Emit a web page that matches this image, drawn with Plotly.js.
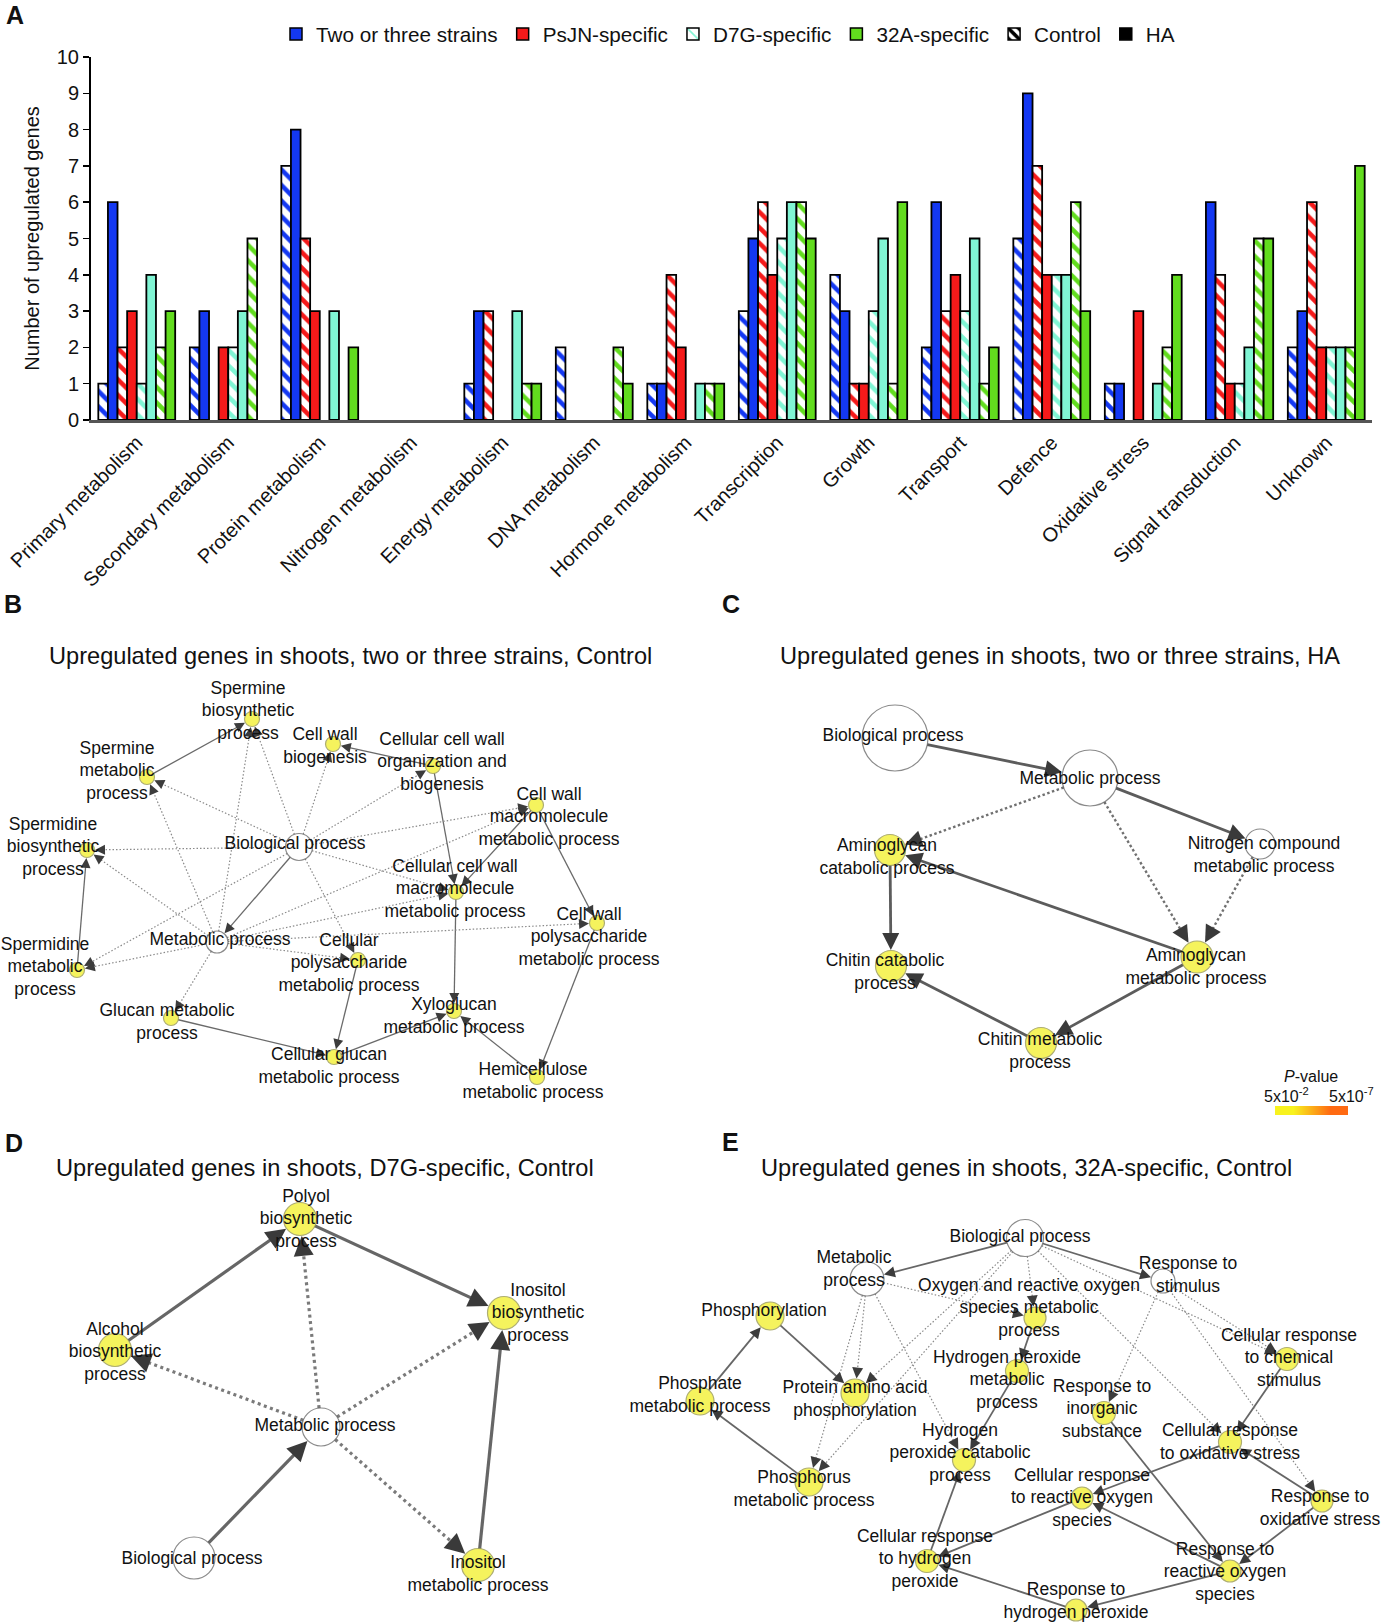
<!DOCTYPE html>
<html>
<head>
<meta charset="utf-8">
<script src="https://cdn.plot.ly/plotly-3.0.1.min.js"></script>
<style>html,body{margin:0;padding:0;background:#fff;}</style>
</head>
<body>
<div id="chart" style="width:1382px;height:1624px;"></div>
<script>
// ---------------- Panel A data ----------------
const categories = ['Primary metabolism','Secondary metabolism','Protein metabolism','Nitrogen metabolism',
  'Energy metabolism','DNA metabolism','Hormone metabolism','Transcription','Growth','Transport',
  'Defence','Oxidative stress','Signal transduction','Unknown'];
const twoThreeControl = [1,2,7,0,1,2,1,3,4,2,5,1,0,2];
const twoThreeHA      = [6,3,8,0,3,0,1,5,3,6,9,1,6,3];
const psjnControl     = [2,0,5,0,3,0,4,6,1,3,7,0,4,6];
const psjnHA          = [3,2,3,0,0,0,2,4,1,4,4,3,1,2];
const d7gControl      = [1,2,0,0,0,0,0,5,3,3,4,0,1,2];
const d7gHA           = [4,3,3,0,3,0,1,6,5,5,4,1,2,2];
const a32Control      = [2,5,0,0,1,2,1,6,1,1,6,2,5,2];
const a32HA           = [3,0,2,0,1,1,1,5,6,2,3,4,5,7];
const groupNames = ['Two or three strains','PsJN-specific','D7G-specific','32A-specific'];
const treatmentNames = ['Control','HA'];
const yTicks = [0,1,2,3,4,5,6,7,8,9,10];

// ---------------- Panel B network ----------------
const bLabels = ['Spermine<br>biosynthetic<br>process','Cell wall<br>biogenesis','Cellular cell wall<br>organization and<br>biogenesis',
  'Spermine<br>metabolic<br>process','Cell wall<br>macromolecule<br>metabolic process','Spermidine<br>biosynthetic<br>process',
  'Biological process','Cellular cell wall<br>macromolecule<br>metabolic process','Cell wall<br>polysaccharide<br>metabolic process',
  'Metabolic process','Cellular<br>polysaccharide<br>metabolic process','Spermidine<br>metabolic<br>process',
  'Glucan metabolic<br>process','Xyloglucan<br>metabolic process','Cellular glucan<br>metabolic process','Hemicellulose<br>metabolic process'];
const bSignificant = [1,1,1,1,1,1,0,1,1,0,1,1,1,1,1,1];
const bEdges = [[3,0,0],[2,1,0],[2,7,0],[4,7,0],[4,8,0],[7,13,0],[6,9,0],[11,5,0],[10,14,0],[12,14,0],[14,13,0],[15,13,0],[8,15,0],
  [6,3,1],[9,3,1],[6,0,1],[9,0,1],[6,1,1],[6,2,1],[6,4,1],[6,5,1],[6,7,1],[6,10,1],[9,4,1],[9,5,1],[9,11,1],[6,11,1],[9,7,1],[9,8,1],[9,10,1],[9,12,1]];
// layout of B (page pixels)
const bPos = [[252,719],[333,744],[433,766],[147,777],[536,805],[87,850],[299,847],[456,892],[597,923],[217,942],[358,960],[77,970],[171,1018],[454,1011],[334,1057],[537,1077]];
const bLabelPos = [[248,712],[325,747],[442,763],[117,772],[549,818],[53,848],[295,845],[455,890],[589,938],[220,941],[349,964],[45,968],[167,1023],[454,1017],[329,1067],[533,1082]];
const bSize = [15,15,15,15,15,15,27,15,15,22,15,15,15,15,15,15];

// ---------------- Panel C network ----------------
const cLabels = ['Biological process','Metabolic process','Nitrogen compound<br>metabolic process','Aminoglycan<br>catabolic process',
  'Chitin catabolic<br>process','Aminoglycan<br>metabolic process','Chitin metabolic<br>process'];
const cSignificant = [0,0,0,1,1,1,1];
const cEdges = [[0,1,0],[1,2,0],[1,3,1],[1,5,1],[2,5,1],[5,3,0],[3,4,0],[5,6,0],[6,4,0]];
const cPos = [[895,738],[1090,778],[1260,844],[890,850],[891,966],[1197,957],[1041,1043]];
const cLabelPos = [[893,737],[1090,780],[1264,856],[887,858],[885,973],[1196,968],[1040,1052]];
const cSize = [66,56,30,31,31,32,31];

// ---------------- Panel D network ----------------
const dLabels = ['Polyol<br>biosynthetic<br>process','Inositol<br>biosynthetic<br>process','Alcohol<br>biosynthetic<br>process',
  'Metabolic process','Biological process','Inositol<br>metabolic process'];
const dSignificant = [1,1,1,0,0,1];
const dEdges = [[2,0,0],[0,1,0],[3,0,1],[3,2,1],[3,1,1],[3,5,1],[4,3,0],[5,1,0]];
const dPos = [[300,1219],[504,1313],[115,1350],[321,1427],[194,1558],[478,1565]];
const dLabelPos = [[306,1220],[538,1314],[115,1353],[325,1427],[192,1560],[478,1575]];
const dSize = [33,33,33,38,42,33];

// ---------------- Panel E network ----------------
const eLabels = ['Biological process','Metabolic<br>process','Response to<br>stimulus',
  'Oxygen and reactive oxygen<br>species metabolic<br>process','Phosphorylation','Cellular response<br>to chemical<br>stimulus',
  'Hydrogen peroxide<br>metabolic<br>process','Phosphate<br>metabolic process','Protein amino acid<br>phosphorylation',
  'Response to<br>inorganic<br>substance','Cellular response<br>to oxidative stress','Hydrogen<br>peroxide catabolic<br>process',
  'Phosphorus<br>metabolic process','Cellular response<br>to reactive oxygen<br>species','Response to<br>oxidative stress',
  'Cellular response<br>to hydrogen<br>peroxide','Response to<br>reactive oxygen<br>species','Response to<br>hydrogen peroxide'];
const eSignificant = [0,0,0,1,1,1,1,1,1,1,1,1,1,1,1,1,1,1];
const eEdges = [[0,1,0],[0,2,0],[7,4,0],[4,8,0],[12,7,0],[3,6,0],[6,11,0],[5,10,0],[10,13,0],[14,10,0],[14,16,0],[16,13,0],
  [9,16,0],[16,17,0],[17,15,0],[13,15,0],[15,11,0],
  [0,3,1],[0,5,1],[0,10,1],[0,8,1],[0,12,1],[1,8,1],[1,12,1],[1,11,1],[1,3,1],[2,9,1],[2,5,1],[2,14,1]];
const ePos = [[1025,1238],[867,1279],[1163,1281],[1035,1318],[770,1316],[1287,1359],[1017,1371],[700,1401],[855,1393],
  [1104,1413],[1230,1442],[964,1460],[809,1482],[1082,1498],[1322,1501],[927,1561],[1230,1571],[1076,1610]];
const eLabelPos = [[1020,1238],[854,1270],[1188,1276],[1029,1309],[764,1312],[1289,1359],[1007,1381],[700,1396],[855,1400],
  [1102,1410],[1230,1443],[960,1454],[804,1490],[1082,1499],[1320,1509],[925,1560],[1225,1573],[1076,1602]];
const eSize = [37,34,24,22,28,23,23,28,28,23,23,23,28,22,22,23,22,22];

// P-value colour key
const pValueRange = [5e-2, 5e-7];

// ---------------- Styles ----------------
const FONT = 'Arial, "Liberation Sans", Helvetica, sans-serif';
const groupColors = ['#1438f2','#f51a1a','#80f5d4','#62dc1e'];
const yellowFill = '#f2ee1a', yellowLine = '#8c8c38';

const traces = [];
const annotations = [];

// Bars: series ordered as they appear inside each category
const series = [
  {y: twoThreeControl, g:0, t:0}, {y: twoThreeHA, g:0, t:1},
  {y: psjnControl, g:1, t:0},     {y: psjnHA, g:1, t:1},
  {y: d7gControl, g:2, t:0},      {y: d7gHA, g:2, t:1},
  {y: a32Control, g:3, t:0},      {y: a32HA, g:3, t:1}
];
const bw = 0.105;
series.forEach((s, k) => {
  const col = groupColors[s.g];
  const line = {color:'#000', width: s.y.map(v => v ? 1.8 : 0)};
  const marker = s.t === 1
    ? {color: col, line}
    : {color: 'white', line,
       pattern: {shape:'\\', fgcolor: col, bgcolor:'white', size: 11, solidity: 0.42, fillmode:'replace'}};
  traces.push({type:'bar', x: categories, y: s.y, width: bw, offset: -0.42 + k*bw,
    marker, showlegend:false, hoverinfo:'skip', name: groupNames[s.g] + ' ' + treatmentNames[s.t]});
});
// legend entries
const legendEntries = [
  {name: groupNames[0], marker:{color: groupColors[0], line:{color:'#000', width:1.5}}},
  {name: groupNames[1], marker:{color: groupColors[1], line:{color:'#000', width:1.5}}},
  {name: groupNames[2], marker:{color:'white', line:{color:'#000', width:1.5}, pattern:{shape:'\\', fgcolor: groupColors[2], bgcolor:'white', size:14, solidity:0.2, fillmode:'replace'}}},
  {name: groupNames[3], marker:{color: groupColors[3], line:{color:'#000', width:1.5}}},
  {name: treatmentNames[0], marker:{color:'white', line:{color:'#000', width:1.5}, pattern:{shape:'\\', fgcolor:'#000', bgcolor:'white', size:9, solidity:0.5, fillmode:'replace'}}},
  {name: treatmentNames[1], marker:{color:'#000', line:{color:'#000', width:1.5}}}
];
legendEntries.forEach(le => traces.push({type:'bar', x:[categories[0]], y:[null], name: le.name, marker: le.marker, width: bw, hoverinfo:'skip'}));

// ---------------- Network drawing ----------------
function drawNetwork(labels, sig, edges, pos, labelPos, size, st) {
  const sx = [], sy = [], dx_ = [], dy_ = [], hx = [], hy = [], ha = [];
  edges.forEach(([s, t, dotted]) => {
    const [x0, y0] = pos[s], [x1, y1] = pos[t];
    const dx = x1 - x0, dy = y1 - y0, L = Math.hypot(dx, dy), ux = dx / L, uy = dy / L;
    const r0 = size[s] / 2, r1 = size[t] / 2 + 0.5;
    const tipX = x1 - ux * r1, tipY = y1 - uy * r1;
    const endX = tipX - ux * st.head * 0.75, endY = tipY - uy * st.head * 0.75;
    const X = dotted ? dx_ : sx, Y = dotted ? dy_ : sy;
    X.push(x0 + ux * r0, endX, null); Y.push(y0 + uy * r0, endY, null);
    hx.push(tipX); hy.push(tipY); ha.push(Math.atan2(ux, -uy) * 180 / Math.PI);
  });
  traces.push({type:'scatter', mode:'lines', x: sx, y: sy, xaxis:'x2', yaxis:'y2', hoverinfo:'skip', showlegend:false,
    line:{color: st.solidC, width: st.solidW}});
  traces.push({type:'scatter', mode:'lines', x: dx_, y: dy_, xaxis:'x2', yaxis:'y2', hoverinfo:'skip', showlegend:false,
    line:{color: st.dotC, width: st.dotW, dash: st.dash}});
  traces.push({type:'scatter', mode:'markers', x: hx, y: hy, xaxis:'x2', yaxis:'y2', hoverinfo:'skip', showlegend:false,
    marker:{symbol:'arrow-up', size: st.head, angle: ha, color: st.headC, line:{width:0}}});
  traces.push({type:'scatter', mode:'markers', x: pos.map(p => p[0]), y: pos.map(p => p[1]), xaxis:'x2', yaxis:'y2',
    hoverinfo:'skip', showlegend:false,
    marker:{size: size, color: sig.map(v => v ? yellowFill : '#ffffff'),
      line:{width: 1.2, color: sig.map(v => v ? yellowLine : '#5a5a5a')}}});
  traces.push({type:'scatter', mode:'text', x: labelPos.map(p => p[0]), y: labelPos.map(p => p[1]), xaxis:'x2', yaxis:'y2',
    text: labels, textposition:'middle center', hoverinfo:'skip', showlegend:false, cliponaxis:false,
    textfont:{family: FONT, size: 17.5, color:'#111'}});
}
drawNetwork(bLabels, bSignificant, bEdges, bPos, bLabelPos, bSize,
  {solidW:1.3, dotW:1.2, solidC:'#6a6a6a', dotC:'#8a8a8a', dash:'1.5px,2px', head:10, headC:'#3c3c3c'});
drawNetwork(cLabels, cSignificant, cEdges, cPos, cLabelPos, cSize,
  {solidW:2.8, dotW:2.4, solidC:'#5c5c5c', dotC:'#707070', dash:'2.5px,2.5px', head:17, headC:'#3a3a3a'});
drawNetwork(dLabels, dSignificant, dEdges, dPos, dLabelPos, dSize,
  {solidW:3.2, dotW:3.2, solidC:'#666666', dotC:'#7a7a7a', dash:'3px,3.5px', head:20, headC:'#3a3a3a'});
drawNetwork(eLabels, eSignificant, eEdges, ePos, eLabelPos, eSize,
  {solidW:1.8, dotW:1.2, solidC:'#666666', dotC:'#888888', dash:'1.5px,2px', head:11, headC:'#3c3c3c'});

// P-value colour key
traces.push({type:'heatmap', z:[pValueRange.map(p => -Math.log10(p))], x:[0,1], y:[0], xaxis:'x3', yaxis:'y3',
  colorscale:[[0,'#f8f21e'],[1,'#ff6a12']], showscale:false, zsmooth:'best', hoverinfo:'skip'});

// ---------------- Text annotations ----------------
function txt(x, y, text, size, extra) {
  annotations.push(Object.assign({xref:'x2', yref:'y2', x, y, text, showarrow:false, xanchor:'center', yanchor:'middle',
    font:{family: FONT, size, color:'#111'}}, extra || {}));
}
txt(15, 15, '<b>A</b>', 25);
txt(13, 604, '<b>B</b>', 25);
txt(731, 604, '<b>C</b>', 25);
txt(14, 1143, '<b>D</b>', 25);
txt(730, 1142, '<b>E</b>', 25);
txt(350, 656, 'Upregulated genes in shoots, two or three strains, Control', 23.6);
txt(1060, 656, 'Upregulated genes in shoots, two or three strains, HA', 23.6);
txt(325, 1168, 'Upregulated genes in shoots, D7G-specific, Control', 23.6);
txt(1026, 1168, 'Upregulated genes in shoots, 32A-specific, Control', 23.6);
txt(1311, 1076, '<i>P</i>-value', 16);
txt(1286, 1095, '5x10<sup>-2</sup>', 16);
txt(1351, 1095, '5x10<sup>-7</sup>', 16);

const layout = {
  width: 1382, height: 1624, margin:{l:0, r:0, t:0, b:0},
  paper_bgcolor:'white', plot_bgcolor:'rgba(0,0,0,0)',
  font:{family: FONT, color:'#111', size: 18},
  barmode:'overlay', hovermode:false, showlegend:true,
  legend:{orientation:'h', x: 276/1382, xanchor:'left', y: 1 - 34/1624, yanchor:'middle',
    font:{size:20.7, color:'#111'}, traceorder:'normal', bgcolor:'rgba(0,0,0,0)', itemwidth:30},
  xaxis:{domain:[91/1382, 1372/1382], type:'category', range:[-0.5, 13.5], showline:true, linecolor:'#555', linewidth:3,
    ticks:'', tickangle:-45, tickfont:{size:20, color:'#111'}, showgrid:false, zeroline:false, fixedrange:true, anchor:'y'},
  yaxis:{domain:[1 - 420/1624, 1 - 57/1624], range:[0, 10], tickvals: yTicks, ticks:'outside', ticklen:6, tickwidth:1.5,
    tickcolor:'#000', showline:true, linecolor:'#000', linewidth:2, showgrid:false, zeroline:false,
    tickfont:{size:20, color:'#111'}, title:{text:'Number of upregulated genes', font:{size:20, color:'#111'}, standoff:12},
    fixedrange:true, anchor:'x'},
  xaxis2:{domain:[0,1], range:[0,1382], visible:false, anchor:'y2', fixedrange:true},
  yaxis2:{domain:[0,1], range:[1624,0], visible:false, anchor:'x2', fixedrange:true},
  xaxis3:{domain:[1275/1382, 1348/1382], range:[-0.5,1.5], visible:false, anchor:'y3', fixedrange:true},
  yaxis3:{domain:[1 - 1115/1624, 1 - 1106/1624], range:[-0.5,0.5], visible:false, anchor:'x3', fixedrange:true},
  annotations
};
Plotly.newPlot('chart', traces, layout, {staticPlot:true, displayModeBar:false});
</script>
</body>
</html>
